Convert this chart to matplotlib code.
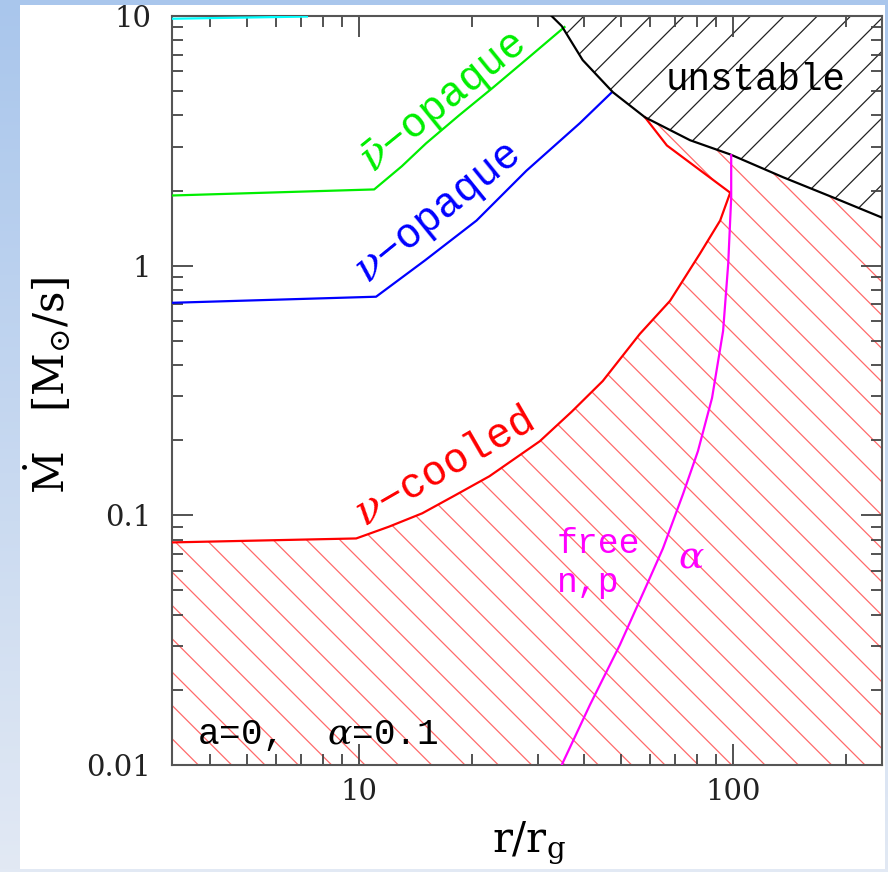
import numpy as np
import matplotlib
matplotlib.use('Agg')
import matplotlib.pyplot as plt
from matplotlib.colors import LinearSegmentedColormap
from matplotlib.patches import Rectangle
from matplotlib.ticker import FixedLocator, FixedFormatter, NullFormatter

plt.rcParams['mathtext.fontset'] = 'dejavuserif'
plt.rcParams['font.family'] = ['Liberation Mono', 'DejaVu Sans Mono']

# ---- data (r/r_g , Mdot [Msun/s]) ----
XMIN, XMAX = 3.16, 250.0
YMIN, YMAX = 0.01, 10.0

cyan_r = [3.16, 7.25]
cyan_m = [9.75, 9.95]

nubar_r = [3.16, 10.97, 13.0, 15.1, 18.5, 22.7, 28.0, 35.4]
nubar_m = [1.91, 2.02, 2.5, 3.09, 4.0, 5.14, 6.7, 9.03]

nu_r = [3.16, 11.1, 15.0, 20.6, 28.0, 38.9, 47.4]
nu_m = [0.71, 0.751, 1.05, 1.516, 2.4, 3.72, 4.95]

cool_r = [3.16, 9.82, 12.0, 14.75, 18.0, 22.3, 30.4, 37.0, 44.8, 56.3, 67.8, 81.5, 92.3, 98.2]
cool_m = [0.0779, 0.0808, 0.09, 0.1019, 0.12, 0.1434, 0.198, 0.26, 0.345, 0.533, 0.723, 1.117, 1.516, 1.96]

# upper branch of the red curve, from the kink up to the unstable line
branch_r = [98.2, 66.5, 58.1]
branch_m = [1.96, 3.03, 3.93]

unst_r = [32.7, 34.8, 39.6, 47.7, 58.1, 76.7, 98.2, 136.0, 185.0, 250.0]
unst_m = [10.0, 9.12, 6.66, 4.95, 3.93, 3.18, 2.79, 2.26, 1.876, 1.558]

alpha_r = [34.8, 41.4, 49.8, 58.8, 64.9, 73.4, 80.5, 87.8, 94.0, 97.0, 98.8, 98.8]
alpha_m = [0.01, 0.0174, 0.0303, 0.0528, 0.0737, 0.1214, 0.1807, 0.295, 0.548, 1.018, 1.876, 2.77]

xticks = [10, 100]
xticklabels = ['10', '100']
yticks = [0.01, 0.1, 1, 10]
yticklabels = ['0.01', '0.1', '1', '10']

fig = plt.figure(figsize=(8.88, 8.72), dpi=100)

# slide background: blue gradient with a white card on it
bg = fig.add_axes([0, 0, 1, 1], zorder=-10)
grad = np.linspace(0, 1, 256).reshape(-1, 1)
cmap = LinearSegmentedColormap.from_list('slide', ['#a9c6ec', '#e2e9f4'])
bg.imshow(grad, aspect='auto', cmap=cmap, extent=[0, 1, 0, 1])
bg.add_patch(Rectangle((20 / 888, 3 / 872), 865 / 888, 864 / 872,
                       facecolor='white', edgecolor='none', transform=bg.transAxes))
bg.set_xlim(0, 1)
bg.set_ylim(0, 1)
bg.axis('off')

ax = fig.add_axes([172 / 888, 107 / 872, 710 / 888, 749 / 872])
ax.set_facecolor('none')
ax.set_xscale('log')
ax.set_yscale('log')
ax.set_xlim(XMIN, XMAX)
ax.set_ylim(YMIN, YMAX)

# hatched regions
plt.rcParams['hatch.linewidth'] = 0.9
red_x = cool_r + branch_r[1:] + unst_r[4:] + [XMAX, XMIN]
red_y = cool_m + branch_m[1:] + unst_m[4:] + [YMIN, YMIN]
ax.fill(red_x, red_y, facecolor='none', edgecolor='#ff6a6a', hatch='\\', linewidth=0, zorder=1)
blk_x = unst_r + [XMAX]
blk_y = unst_m + [YMAX]
ax.fill(blk_x, blk_y, facecolor='none', edgecolor='#222222', hatch='/', linewidth=0, zorder=1)

lw = 1.6
ax.plot(cyan_r, cyan_m, color='#00ffff', lw=lw, zorder=3)
ax.plot(nubar_r, nubar_m, color='#00ee00', lw=lw, zorder=3)
ax.plot(nu_r, nu_m, color='#0000ff', lw=lw, zorder=3)
ax.plot(cool_r, cool_m, color='#ff0000', lw=lw, zorder=3)
ax.plot(branch_r, branch_m, color='#ff0000', lw=lw, zorder=3)
ax.plot(unst_r, unst_m, color='black', lw=lw, zorder=3)
ax.plot(alpha_r, alpha_m, color='#ff00ff', lw=lw, zorder=3)

# labels inside the plot
ax.text(16.9, 4.45, '$\\bar{\\nu}$\u2212opaque', color='#00ee00', fontsize=30,
        rotation=39, rotation_mode='anchor', ha='center', va='center')
ax.text(16.3, 1.60, '$\\nu$\u2212opaque', color='#0000ff', fontsize=30,
        rotation=39, rotation_mode='anchor', ha='center', va='center')
ax.text(16.9, 0.155, '$\\nu$\u2212cooled', color='#ff0000', fontsize=30,
        rotation=30, rotation_mode='anchor', ha='center', va='center')
ax.text(114.6, 5.53, 'unstable', color='black', fontsize=27, ha='center', va='center')
ax.text(33.7, 0.0704, 'free', color='#ff00ff', fontsize=25, ha='left', va='baseline')
ax.text(33.7, 0.0495, 'n,p', color='#ff00ff', fontsize=25, ha='left', va='baseline')
ax.text(77.2, 0.0678, r'$\alpha$', color='#ff00ff', fontsize=27, ha='center', va='center')
ax.text(3.68, 0.01214, r'a=0,  $\alpha$=0.1', color='black', fontsize=26,
        ha='left', va='baseline')

# axes, ticks
for s in ax.spines.values():
    s.set_color('#555555')
    s.set_linewidth(1.5)
ax.xaxis.set_major_locator(FixedLocator(xticks))
ax.xaxis.set_major_formatter(FixedFormatter(xticklabels))
ax.xaxis.set_minor_formatter(NullFormatter())
ax.yaxis.set_major_locator(FixedLocator(yticks))
ax.yaxis.set_major_formatter(FixedFormatter(yticklabels))
ax.yaxis.set_minor_formatter(NullFormatter())
ax.tick_params(which='both', direction='in', top=True, right=True, color='#444444', width=1.3)
ax.tick_params(which='major', length=15, labelsize=21, labelcolor='#222222')
ax.tick_params(axis='x', which='major', pad=9)
ax.tick_params(axis='y', which='major', pad=15)
ax.tick_params(which='minor', length=8)
for lab in ax.get_xticklabels() + ax.get_yticklabels():
    lab.set_family('DejaVu Serif')

ax.set_xlabel(r'r/r$_{\rm g}$', fontsize=30, family='DejaVu Serif', va='baseline')
ax.xaxis.set_label_coords(0.503, -0.116)
ax.set_ylabel(r'$\dot{\rm M}$   [M$_{\odot}$/s]', fontsize=30, family='DejaVu Serif', va='center')
ax.yaxis.set_label_coords(-0.175, 0.507)

fig.savefig('out.png', dpi=100)
